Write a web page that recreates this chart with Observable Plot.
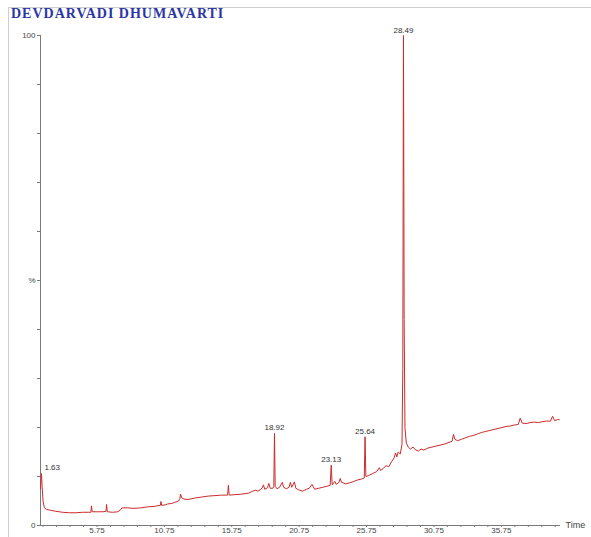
<!DOCTYPE html>
<html>
<head>
<meta charset="utf-8">
<script src="https://cdn.jsdelivr.net/npm/d3@7"></script>
<script src="https://cdn.jsdelivr.net/npm/@observablehq/plot@0.6"></script>
<style>
  html, body { margin: 0; padding: 0; background: #fff; }
  #wrap { position: relative; width: 591px; height: 537px; overflow: hidden; }
  #frame { position: absolute; left: 8px; top: 7px; right: -2px; bottom: -2px; border-left: 1px solid #cfcfcf; border-top: 1px solid #cfcfcf; }
  #title { position: absolute; left: 11px; top: 6px; font-family: "Liberation Serif", serif; font-weight: bold; font-size: 14px; color: #2a35a8; letter-spacing: 1px; }
  #chart { position: absolute; left: 0; top: 0; }
</style>
</head>
<body>
<div id="wrap">
  <div id="frame"></div>
  <div id="chart"></div>
  <div id="title">DEVDARVADI DHUMAVARTI</div>
</div>
<script>
const titleText = "DEVDARVADI DHUMAVARTI";
const xDomain = [1.56, 40.14];
const xTicks = [1.75,2.75,3.75,4.75,5.75,6.75,7.75,8.75,9.75,10.75,11.75,12.75,13.75,14.75,15.75,16.75,17.75,18.75,19.75,20.75,21.75,22.75,23.75,24.75,25.75,26.75,27.75,28.75,29.75,30.75,31.75,32.75,33.75,34.75,35.75,36.75,37.75,38.75,39.75];
const xTickLabels = ["5.75","10.75","15.75","20.75","25.75","30.75","35.75"];
const yTicks = [0,10,20,30,40,50,60,70,80,90,100];
const yTickLabels = {0: "0", 50: "%", 100: "100"};

const times = [
  1.56,1.60,1.63,1.68,1.75,1.85,2.0,2.3,2.7,3.2,3.7,4.2,4.7,5.1,5.3,5.34,5.4,5.8,6.2,6.42,6.46,6.52,6.9,7.3,7.5,7.6,8.0,8.5,9.0,9.5,10.0,10.45,10.5,10.55,10.8,11.0,11.3,11.5,11.8,11.9,11.95,12.05,12.2,12.5,13.0,13.5,14.0,14.5,15.0,15.44,15.5,15.56,16.0,16.5,17.0,17.3,17.5,17.7,17.9,18.0,18.1,18.2,18.4,18.5,18.6,18.8,18.87,18.92,18.97,19.1,19.3,19.5,19.6,19.8,20.0,20.1,20.2,20.4,20.5,20.7,21.0,21.3,21.5,21.7,21.9,22.2,22.5,22.8,23.05,23.13,23.2,23.4,23.5,23.7,23.8,23.9,24.2,24.5,24.8,25.1,25.4,25.58,25.64,25.7,25.9,26.2,26.5,26.7,26.8,27.0,27.2,27.4,27.6,27.8,27.9,28.0,28.1,28.25,28.38,28.44,28.49,28.54,28.6,28.7,28.85,29.0,29.2,29.4,29.6,29.8,30.0,30.3,30.6,30.9,31.2,31.5,31.8,32.1,32.2,32.3,32.5,32.8,33.1,33.4,33.7,34.0,34.3,34.6,34.9,35.2,35.5,35.8,36.1,36.4,36.7,37.0,37.15,37.3,37.6,37.9,38.2,38.5,38.8,39.1,39.4,39.55,39.7,39.9,40.05
];
const intensity = [
  7.5,9.5,10.6,8.0,5.0,3.6,3.3,3.1,2.9,2.7,2.6,2.6,2.7,2.7,2.7,4.0,2.8,2.8,2.8,2.9,4.3,2.8,2.7,2.8,3.2,3.6,3.6,3.5,3.6,3.8,3.9,4.1,4.9,4.1,4.2,4.4,4.5,4.7,5.0,5.5,6.4,5.6,5.4,5.3,5.6,5.8,6.0,6.1,6.2,6.2,8.2,6.2,6.3,6.4,6.6,7.0,7.2,7.0,7.4,7.6,8.3,7.4,7.7,8.6,7.6,7.6,8.0,18.8,8.0,7.5,7.8,8.8,7.8,7.5,7.8,8.8,7.8,8.9,7.6,7.3,7.0,7.4,7.6,8.4,7.4,7.6,7.8,8.0,8.2,12.3,8.3,9.0,8.4,8.8,9.6,8.8,8.5,8.7,9.0,9.3,9.5,9.7,18.1,10.0,10.2,10.6,11.0,11.8,11.2,11.7,12.2,12.0,13.0,13.8,14.8,14.0,15.0,14.6,16.5,32.0,100,42.0,20.0,16.8,16.0,15.6,16.0,15.4,15.2,15.6,15.4,15.8,16.0,16.2,16.4,16.6,16.9,17.2,18.6,17.6,17.3,17.6,17.9,18.2,18.4,18.7,19.0,19.2,19.4,19.6,19.8,20.0,20.2,20.3,20.5,20.6,21.9,20.9,20.8,21.0,21.1,21.0,21.2,21.3,21.3,22.3,21.4,21.6,21.6
];

const peakTimes = [1.63, 18.92, 23.13, 25.64, 28.49];
const peakValues = [10.6, 18.8, 12.3, 18.1, 100];
const peakLabels = ["1.63", "18.92", "23.13", "25.64", "28.49"];

const data = times.map((t, i) => ({t, v: intensity[i]}));
const peaks = peakTimes.map((t, i) => ({t, v: peakValues[i], s: peakLabels[i]}));

const axisColor = "#7a7a7a";
const textColor = "#444";

const chart = Plot.plot({
  width: 591,
  height: 537,
  marginTop: 35,
  marginBottom: 12,
  marginLeft: 40,
  marginRight: 31,
  style: {fontFamily: "'Liberation Sans', Arial, sans-serif", background: "transparent", overflow: "visible"},
  x: {domain: xDomain},
  y: {domain: [0, 100]},
  marks: [
    Plot.ruleX([xDomain[0]], {y1: 0, y2: 100, stroke: axisColor, strokeWidth: 1}),
    Plot.ruleY([0], {x1: xDomain[0], x2: xDomain[1], stroke: axisColor, strokeWidth: 1}),
    Plot.axisY({ticks: yTicks, tickFormat: d => yTickLabels[d] ?? "", tickSize: 3, tickPadding: 2, fontSize: 8, stroke: axisColor, fill: textColor, label: null}),
    Plot.axisX({ticks: xTicks, tickFormat: d => { const s = d.toFixed(2); return xTickLabels.includes(s) ? s : ""; }, tickSize: 2, tickPadding: 0, fontSize: 8, stroke: axisColor, fill: textColor, label: null}),
    Plot.line(data, {x: "t", y: "v", stroke: "#cc2a2a", strokeWidth: 1}),
    Plot.text(peaks.slice(1), {x: "t", y: "v", text: "s", dy: -3, lineAnchor: "bottom", fontSize: 8, fill: "#333"}),
    Plot.text(peaks.slice(0, 1), {x: "t", y: "v", text: "s", dx: 3, dy: -4, textAnchor: "start", lineAnchor: "bottom", fontSize: 8, fill: "#333"}),
    Plot.text([{t: xDomain[1], v: 0, s: "Time"}], {x: "t", y: "v", text: "s", dx: 5, textAnchor: "start", fontSize: 9, fill: textColor})
  ]
});
document.getElementById("chart").appendChild(chart);
</script>
</body>
</html>
